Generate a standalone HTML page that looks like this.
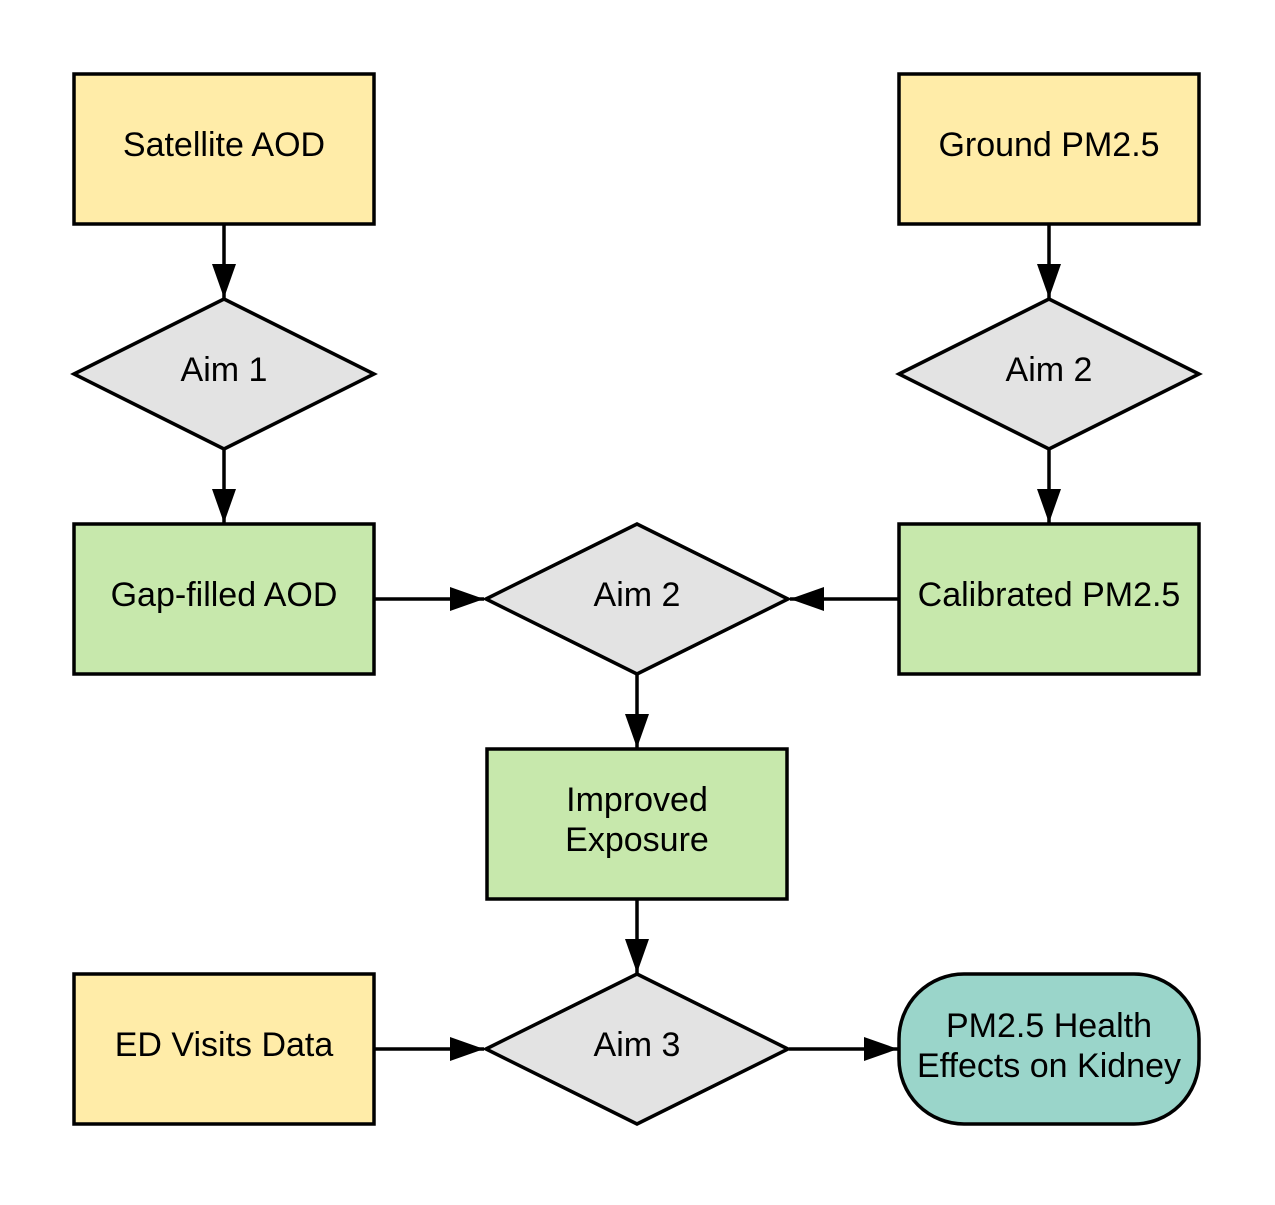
<!DOCTYPE html>
<html><head><style>html,body{margin:0;padding:0;background:#fff}</style></head><body>
<svg width="1275" height="1200" viewBox="0 0 1275 1200" xmlns="http://www.w3.org/2000/svg" font-family="Liberation Sans, sans-serif" font-size="34" text-anchor="middle">
<defs>
<marker id="b" markerWidth="34" markerHeight="24" refX="34" refY="12" orient="auto" markerUnits="userSpaceOnUse"><path d="M0,0 L34,12 L0,24 z" fill="#000"/></marker></defs>
<g stroke="#000" stroke-width="3.5">
<rect x="74" y="74" width="300" height="150" fill="#FFECA8"/>
<rect x="899" y="74" width="300" height="150" fill="#FFECA8"/>
<polygon points="74,374 224,299 374,374 224,449" fill="#E3E3E3"/>
<polygon points="899,374 1049,299 1199,374 1049,449" fill="#E3E3E3"/>
<rect x="74" y="524" width="300" height="150" fill="#C7E8AC"/>
<rect x="899" y="524" width="300" height="150" fill="#C7E8AC"/>
<polygon points="486,599 637,524 788,599 637,674" fill="#E3E3E3"/>
<rect x="487" y="749" width="300" height="150" fill="#C7E8AC"/>
<rect x="74" y="974" width="300" height="150" fill="#FFECA8"/>
<polygon points="486,1049 637,974 788,1049 637,1124" fill="#E3E3E3"/>
<rect x="899" y="974" width="300" height="150" rx="65" fill="#9AD5CA"/>
<g fill="none" marker-end="url(#b)">
<line x1="224" y1="225" x2="224" y2="298"/>
<line x1="1049" y1="225" x2="1049" y2="298"/>
<line x1="224" y1="449" x2="224" y2="523"/>
<line x1="1049" y1="449" x2="1049" y2="523"/>
<line x1="375" y1="599" x2="484" y2="599"/>
<line x1="898" y1="599" x2="790" y2="599"/>
<line x1="637" y1="674" x2="637" y2="748"/>
<line x1="637" y1="899" x2="637" y2="973"/>
<line x1="375" y1="1049" x2="484" y2="1049"/>
<line x1="789" y1="1049" x2="898" y2="1049"/>
</g></g>
<g fill="#000">
<text x="224" y="156">Satellite AOD</text>
<text x="1049" y="156">Ground PM2.5</text>
<text x="224" y="381">Aim 1</text>
<text x="1049" y="381">Aim 2</text>
<text x="224" y="606">Gap-filled AOD</text>
<text x="1049" y="606">Calibrated PM2.5</text>
<text x="637" y="606">Aim 2</text>
<text x="637" y="811">Improved</text>
<text x="637" y="851">Exposure</text>
<text x="224" y="1056">ED Visits Data</text>
<text x="637" y="1056">Aim 3</text>
<text x="1049" y="1037">PM2.5 Health</text>
<text x="1049" y="1077">Effects on Kidney</text>
</g>
</svg>
</body></html>
